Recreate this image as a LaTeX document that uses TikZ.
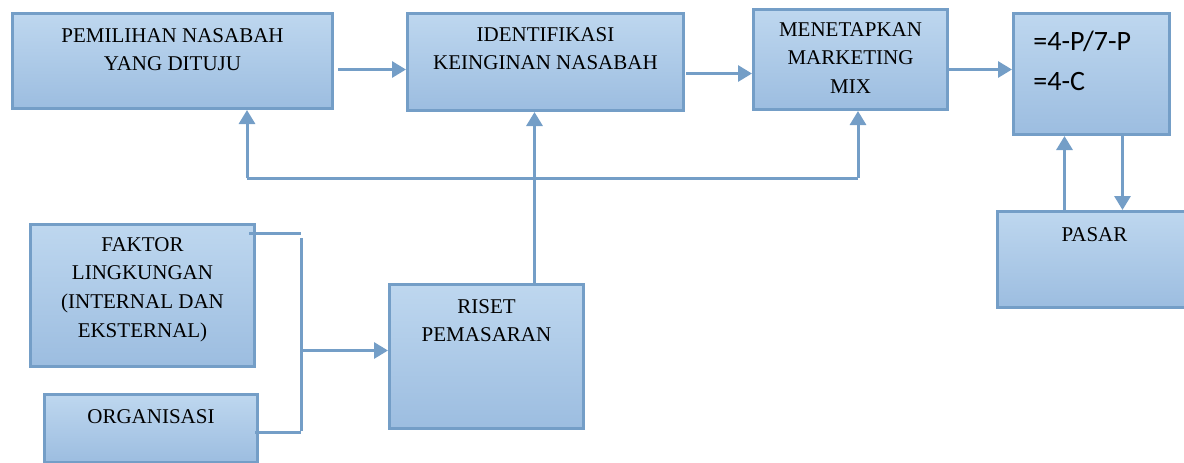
\documentclass[tikz,border=0pt]{standalone}
\usepackage{fontspec}
\setmainfont{Liberation Serif}
\newfontfamily\carlito{Carlito}
\usetikzlibrary{arrows.meta}
\definecolor{garisbiru}{RGB}{116,158,199}
\definecolor{isiatas}{RGB}{190,215,239}
\definecolor{isibawah}{RGB}{156,189,224}
\tikzset{kotak/.style={draw=garisbiru,line width=1.5pt,top color=isiatas,bottom color=isibawah,
        anchor=north west,inner sep=0pt},
    teks/.style={font=\fontsize{10.5}{14.3}\selectfont,align=center,inner sep=0pt,anchor=north},
    teksans/.style={font=\carlito\fontsize{14}{20}\selectfont,align=left,inner sep=0pt,anchor=north west},
    garis/.style={draw=garisbiru,line width=1.5pt},
    panah/.style={garis,-{Triangle[length=7pt,width=8pt]}},
    }
\begin{document}
\begin{tikzpicture}[x=0.5pt,y=-0.5pt]
	\useasboundingbox (0,0) rectangle (1184,462);
	% kotak
	\node[kotak,minimum width=160pt,minimum height=47.5pt] (pilih) at (11,12) {};
	\node[kotak,minimum width=138pt,minimum height=48.5pt] (ident) at (406,12) {};
	\node[kotak,minimum width=97pt,minimum height=50pt] (menet) at (752,8) {};
	\node[kotak,minimum width=78pt,minimum height=60.5pt] (pers) at (1012,12) {};
	\node[kotak,minimum width=97pt,minimum height=48pt] (pasar) at (996,210) {};
	\node[kotak,minimum width=112pt,minimum height=71pt] (faktor) at (29,223) {};
	\node[kotak,minimum width=106.5pt,minimum height=34pt] (organ) at (43,393) {};
	\node[kotak,minimum width=97pt,minimum height=72pt] (riset) at (388,283) {};
	% teks
	\node[teks] (pilih-t) at ([yshift=-8pt]pilih.north) {PEMILIHAN NASABAH\\YANG DITUJU};
	\node[teks] (ident-t) at ([yshift=-7.5pt]ident.north) {IDENTIFIKASI\\KEINGINAN NASABAH};
	\node[teks] (menet-t) at ([yshift=-7pt]menet.north) {MENETAPKAN\\MARKETING\\MIX};
	\node[teksans] (pers-t) at ([shift={(21,19)}]pers.north west) {=4-P/7-P\\=4-C};
	\node[teks] (pasar-t) at ([yshift=-8.5pt]pasar.north) {PASAR};
	\node[teks] (faktor-t) at ([yshift=-7pt]faktor.north) {FAKTOR\\LINGKUNGAN\\(INTERNAL DAN\\EKSTERNAL)};
	\node[teks] (organ-t) at ([yshift=-8pt]organ.north) {ORGANISASI};
	\node[teks] (riset-t) at ([yshift=-8pt]riset.north) {RISET\\PEMASARAN};
	% alur atas
	\draw[panah] ([shift={(4,8.5)}]pilih.east) coordinate (a1) -- (a1 -| ident.west);
	\draw[panah] ([shift={(1,11.5)}]ident.east) coordinate (a2) -- (a2 -| menet.west);
	\draw[panah] ([shift={(0,10)}]menet.east) coordinate (a3) -- (a3 -| pers.west);
	% umpan balik
	\coordinate (fb-kiri) at (247,178);
	\coordinate (fb-kanan) at (858,178);
	\draw[garis] (fb-kiri) -- (fb-kanan);
	\draw[panah] (fb-kiri) -- (fb-kiri |- pilih.south);
	\draw[panah] (fb-kanan) -- (fb-kanan |- menet.south);
	\draw[panah] ([xshift=24pt]riset.north) coordinate (r1) -- (r1 |- ident.south);
	% pasar
	\draw[panah] ([xshift=-15pt]pasar.north) coordinate (n1) -- (n1 |- pers.south);
	\draw[panah] ([xshift=15.5pt]pers.south) coordinate (n2) -- (n2 |- pasar.north);
	% kurung kiri
	\draw[garis] ([shift={(-7,10)}]faktor.north east) -- ++(52,0);
	\draw[garis] ([shift={(45,15)}]faktor.north east) -- ++(0,193);
	\draw[garis] ([shift={(-4,4)}]organ.east) -- ++(46,0);
	\draw[panah] ([shift={(-85,-6)}]riset.west) -- ([yshift=3pt]riset.west);
\end{tikzpicture}
\end{document}
